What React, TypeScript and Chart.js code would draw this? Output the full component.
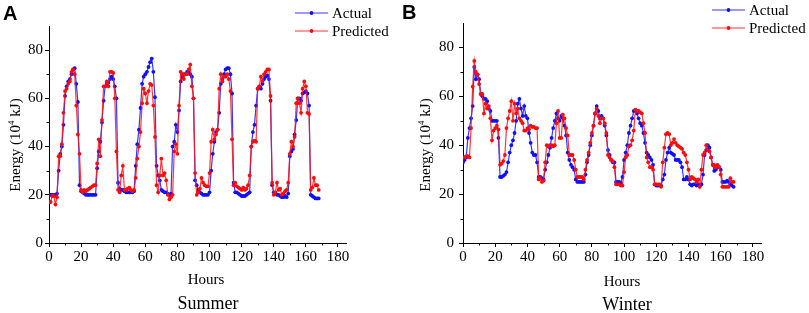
import React, { useEffect, useRef } from "react";
import { Chart, registerables } from "chart.js";

Chart.register(...registerables);

// ---- Data (hourly, hours 0..168) ----
const summerActual = [
  20, 20, 20, 20, 20, 20.5, 30, 37, 40, 49, 61, 65,
  67, 68, 70, 72, 72.5, 66, 58.5, 24, 21.5, 21, 20.5, 20,
  20, 20, 20, 20, 20, 20, 31, 38, 42, 50, 59, 65,
  66, 66.5, 68, 69, 68, 65, 60, 25, 22.5, 22, 22, 21.5,
  21, 21, 21, 21, 21, 21.5, 32, 41, 47, 56, 66, 69,
  70, 71, 73, 75, 76.5, 71, 60.5, 32, 28, 26, 22, 21.5,
  21, 21, 20.5, 20, 20.5, 40, 42, 49, 46, 55, 67, 69,
  70, 70, 71, 71, 70, 69, 60, 26, 24, 22, 21, 20.5,
  20, 20, 20, 20, 21, 30, 37, 42, 46, 47, 54, 66,
  68, 70, 72, 72.5, 72.5, 70, 62, 25, 21, 21, 20.5, 20,
  19.5, 19.5, 19.5, 20, 20.5, 21, 40, 46, 49, 57, 64, 65,
  64, 66, 68, 69, 69.5, 68, 59, 24, 21, 20.5, 20, 20,
  19.5, 19, 19, 19.5, 19, 20.5, 36, 38, 39, 45, 51, 60,
  60, 59, 62, 62.5, 63, 62, 57, 20, 19.5, 19, 18.5, 18.5,
  18.5,
];

const summerPredicted = [
  17, 17, 19.5, 19.5, 16, 19, 36, 36, 41, 54, 63, 64,
  66, 67, 71, 72, 70, 57, 45, 37, 22, 21, 22, 21.5,
  22, 22.5, 23, 23.5, 24, 24, 33, 43, 36, 51, 65, 65,
  67, 65, 71, 71, 70.5, 60, 38, 22, 21, 28, 32, 22,
  22, 22.5, 23, 22, 21.5, 22, 27, 35, 40, 46, 58, 64,
  62, 58, 63, 66, 65.5, 57, 44, 24, 21, 28, 35, 28,
  29, 26, 20, 18, 19, 20, 38, 41, 37, 57, 71, 70,
  68, 70, 70, 72, 74, 65, 60, 29, 20, 21, 22.5, 27,
  25, 24, 23.5, 23.5, 29, 42, 47, 43, 45, 47, 64, 70,
  67, 69, 69, 70, 68, 63, 43, 24, 25, 23.5, 23, 22.5,
  22, 23, 22, 22.5, 24, 28, 40, 42, 42.5, 42, 64, 65,
  69, 67, 70, 71, 72, 72, 61, 25, 20, 21, 25, 22,
  22.5, 20, 20.5, 21.5, 22, 25, 37, 42, 40, 44, 58, 60,
  58, 54, 64, 67, 65, 54, 53.5, 22, 23, 27, 24, 24,
  22,
];

const winterActual = [
  33, 34, 35, 43, 47, 51, 56, 72, 67, 69, 67, 61,
  60, 59, 59, 58, 55, 54, 50, 50, 50, 50, 43, 27,
  27, 27.5, 28, 29, 33, 37, 40, 42, 45, 50, 57, 59,
  55, 52, 56, 52, 51, 45, 41, 37, 36, 36, 33, 27,
  27, 26.5, 26, 30, 33, 36, 39, 43, 47, 50, 53, 51,
  50, 52, 51, 48, 44, 37, 34, 32, 31, 30, 26, 25,
  25, 25, 25, 25, 28, 33, 36, 40, 44, 48, 53, 56,
  54, 51, 52, 51, 48, 44, 38, 36, 34, 33, 33, 25,
  25, 25, 24.5, 27, 34, 37, 40, 45, 48, 51, 54, 54.5,
  53, 51, 49, 48, 45, 41, 37, 36, 35, 34, 32, 24,
  23.5, 23.5, 23.5, 23.5, 26, 28, 34, 37, 39, 37, 36.5, 36,
  34, 34, 34, 33, 31, 26, 26, 27, 26, 24, 23.5, 24,
  24, 23.5, 24, 23.5, 24, 28, 36, 38, 40, 39, 35, 32,
  29.5, 30, 31, 31, 30, 25, 25, 25, 25.5, 25, 24, 23.5,
  23,
];

const winterPredicted = [
  35, 35, 35.5, 35.5, 35, 47, 64, 74.5, 70, 69, 65, 61,
  61, 53, 57, 55, 56, 51, 42, 46, 47, 48, 46.5, 32,
  32.5, 33.5, 36, 47, 51, 54, 58, 50, 57, 53, 55, 51,
  50, 49, 46, 46, 47, 46.5, 48, 47.5, 47.5, 47, 47, 26,
  26.5, 25, 25.5, 33, 40, 39.5, 40, 40, 39.5, 40, 49, 54,
  43, 43, 52.5, 51, 47, 44, 36, 36, 36, 34, 30, 27,
  27, 27, 27, 26, 30, 34, 37, 41, 45, 48, 53, 55,
  52, 49, 51, 51, 49, 45, 36, 35, 34, 33.5, 31, 24,
  24, 24, 23.5, 23.5, 29, 35, 36, 39.5, 40, 42, 46, 54.5,
  54, 54, 53.5, 53, 49, 45, 35, 33, 31, 31, 30, 24,
  24, 24, 24, 23, 33, 39, 44.5, 45, 44.5, 40, 41, 42.5,
  41, 40, 39.5, 39, 38.5, 37, 36, 33, 30, 26, 27, 26.5,
  26, 25, 26, 23, 30, 36, 37, 40, 38, 37.5, 35, 32,
  32, 31, 32, 31, 28, 23, 23, 23, 23, 23, 26.5, 25,
  25,
];

const xTickValues = [0, 20, 40, 60, 80, 100, 120, 140, 160, 180];
const xMinorValues = [10, 30, 50, 70, 90, 110, 130, 150, 170];
const yTickValues = [0, 20, 40, 60, 80];
const yMinorValues = [10, 30, 50, 70];
const seriesLabels = ["Actual", "Predicted"];
const xTitle = "Hours";

const SERIF = '"Liberation Serif", "Times New Roman", serif';
const SANS = '"Liberation Sans", Arial, sans-serif';

const BLUE_LINE = "rgba(20,20,255,0.85)";
const BLUE_PT = "#1010ff";
const RED_LINE = "rgba(255,20,20,0.85)";
const RED_PT = "#ff0a0a";
const TEXT = "#000";

type PanelCfg = {
  left: number;
  width: number;
  actual: number[];
  predicted: number[];
  padTop: number;
  padRight: number;
  yAxisWidth: number;
  yLabelPad: number;
  panelLabel: string;
  season: string;
  legendX: number;
  legendY: number[];
  hoursPos: [number, number];
  seasonPos: [number, number];
  yTitlePos: [number, number];
  labelPos: [number, number];
};

const panels: PanelCfg[] = [
  {
    left: 0,
    width: 400,
    actual: summerActual,
    predicted: summerPredicted,
    padTop: 26,
    padRight: 54,
    yAxisWidth: 49,
    yLabelPad: 2,
    panelLabel: "A",
    season: "Summer",
    legendX: 295,
    legendY: [13, 31],
    hoursPos: [206, 280],
    seasonPos: [208, 304],
    yTitlePos: [15, 145],
    labelPos: [3, 4],
  },
  {
    left: 400,
    width: 409,
    actual: winterActual,
    predicted: winterPredicted,
    padTop: 23,
    padRight: 48,
    yAxisWidth: 63,
    yLabelPad: 5,
    panelLabel: "B",
    season: "Winter",
    legendX: 312,
    legendY: [10, 28],
    hoursPos: [222, 282],
    seasonPos: [227, 305],
    yTitlePos: [25, 145],
    labelPos: [2, 3],
  },
];

function Panel({ cfg }: { cfg: PanelCfg }) {
  const ref = useRef<HTMLCanvasElement | null>(null);

  useEffect(() => {
    const canvas = ref.current;
    if (!canvas) return;

    const decor = {
      id: "decor",
      afterDraw(chart: any) {
        const ctx = chart.ctx as CanvasRenderingContext2D;
        const xs = chart.scales.x;
        const ys = chart.scales.y;
        const area = chart.chartArea;
        ctx.save();
        // minor ticks
        ctx.strokeStyle = "#000";
        ctx.lineWidth = 1;
        ctx.beginPath();
        for (const v of xMinorValues) {
          const px = Math.round(xs.getPixelForValue(v)) + 0.5;
          ctx.moveTo(px, area.bottom);
          ctx.lineTo(px, area.bottom + 2.5);
        }
        for (const v of yMinorValues) {
          const py = Math.round(ys.getPixelForValue(v)) + 0.5;
          ctx.moveTo(area.left, py);
          ctx.lineTo(area.left - 2.5, py);
        }
        ctx.stroke();

        // legend
        const colors = [
          [BLUE_LINE, BLUE_PT],
          [RED_LINE, RED_PT],
        ];
        ctx.font = `15px ${SERIF}`;
        ctx.textBaseline = "middle";
        ctx.textAlign = "left";
        seriesLabels.forEach((lab, i) => {
          const y = cfg.legendY[i];
          ctx.strokeStyle = colors[i][0];
          ctx.lineWidth = 1.2;
          ctx.beginPath();
          ctx.moveTo(cfg.legendX, y);
          ctx.lineTo(cfg.legendX + 33, y);
          ctx.stroke();
          ctx.fillStyle = colors[i][1];
          ctx.beginPath();
          ctx.arc(cfg.legendX + 16.5, y, 1.9, 0, Math.PI * 2);
          ctx.fill();
          ctx.fillStyle = TEXT;
          ctx.fillText(lab, cfg.legendX + 37, y + 1);
        });

        // x title and season label
        ctx.fillStyle = TEXT;
        ctx.textAlign = "center";
        ctx.font = `15px ${SERIF}`;
        ctx.fillText(xTitle, cfg.hoursPos[0], cfg.hoursPos[1]);
        ctx.font = `18px ${SERIF}`;
        ctx.fillText(cfg.season, cfg.seasonPos[0], cfg.seasonPos[1]);

        // panel label
        ctx.font = `bold 20px ${SANS}`;
        ctx.textAlign = "left";
        ctx.textBaseline = "top";
        ctx.fillText(cfg.panelLabel, cfg.labelPos[0], cfg.labelPos[1]);

        // y title with superscript
        ctx.translate(cfg.yTitlePos[0], cfg.yTitlePos[1]);
        ctx.rotate(-Math.PI / 2);
        ctx.textBaseline = "alphabetic";
        ctx.textAlign = "left";
        const p1 = "Energy (10";
        const p2 = "4";
        const p3 = " kJ)";
        ctx.font = `15px ${SERIF}`;
        const w1 = ctx.measureText(p1).width;
        const w3 = ctx.measureText(p3).width;
        ctx.font = `9px ${SERIF}`;
        const w2 = ctx.measureText(p2).width;
        const total = w1 + w2 + w3;
        let x = -total / 2;
        const base = 5;
        ctx.font = `15px ${SERIF}`;
        ctx.fillText(p1, x, base);
        x += w1;
        ctx.font = `9px ${SERIF}`;
        ctx.fillText(p2, x, base - 6);
        x += w2;
        ctx.font = `15px ${SERIF}`;
        ctx.fillText(p3, x, base);
        ctx.restore();
      },
    };

    const toPts = (arr: number[]) => arr.map((v, i) => ({ x: i, y: v }));

    const chart = new Chart(canvas, {
      type: "line",
      data: {
        datasets: [
          {
            label: seriesLabels[0],
            data: toPts(cfg.actual),
            borderColor: BLUE_LINE,
            backgroundColor: BLUE_PT,
            pointBackgroundColor: BLUE_PT,
            pointBorderWidth: 0,
            pointRadius: 1.9,
            borderWidth: 1.2,
            tension: 0,
            order: 2,
          },
          {
            label: seriesLabels[1],
            data: toPts(cfg.predicted),
            borderColor: RED_LINE,
            backgroundColor: RED_PT,
            pointBackgroundColor: RED_PT,
            pointBorderWidth: 0,
            pointRadius: 1.9,
            borderWidth: 1.2,
            tension: 0,
            order: 1,
          },
        ],
      },
      options: {
        responsive: false,
        animation: false,
        devicePixelRatio: 1,
        events: [],
        layout: {
          padding: { left: 0, top: cfg.padTop, right: cfg.padRight, bottom: 0 },
        },
        plugins: {
          legend: { display: false },
          tooltip: { enabled: false },
          title: { display: false },
        },
        scales: {
          x: {
            type: "linear",
            min: 0,
            max: 185,
            afterBuildTicks: (scale: any) => {
              scale.ticks = xTickValues.map((v) => ({ value: v }));
            },
            afterFit: (scale: any) => {
              scale.height = 70;
            },
            grid: {
              display: true,
              drawOnChartArea: false,
              drawTicks: true,
              tickLength: 4,
              color: "#000",
              lineWidth: 1,
            },
            border: { display: true, color: "#000", width: 1 },
            ticks: {
              color: TEXT,
              font: { family: SERIF, size: 15 },
              padding: 1,
              maxRotation: 0,
              autoSkip: false,
            },
          },
          y: {
            type: "linear",
            min: 0,
            max: 90,
            afterBuildTicks: (scale: any) => {
              scale.ticks = yTickValues.map((v) => ({ value: v }));
            },
            afterFit: (scale: any) => {
              scale.width = cfg.yAxisWidth;
            },
            grid: {
              display: true,
              drawOnChartArea: false,
              drawTicks: true,
              tickLength: 4,
              color: "#000",
              lineWidth: 1,
            },
            border: { display: true, color: "#000", width: 1 },
            ticks: {
              color: TEXT,
              font: { family: SERIF, size: 15 },
              padding: cfg.yLabelPad,
              autoSkip: false,
            },
          },
        },
      } as any,
      plugins: [decor],
    });

    return () => {
      chart.destroy();
    };
  }, [cfg]);

  return (
    <canvas
      ref={ref}
      width={cfg.width}
      height={313}
      style={{
        position: "absolute",
        left: cfg.left,
        top: 0,
        width: cfg.width,
        height: 313,
      }}
    />
  );
}

export default function App() {
  return (
    <div
      style={{
        position: "absolute",
        left: 0,
        top: 0,
        width: 809,
        height: 313,
        background: "#fff",
        overflow: "hidden",
      }}
    >
      {panels.map((p) => (
        <Panel key={p.panelLabel} cfg={p} />
      ))}
    </div>
  );
}
